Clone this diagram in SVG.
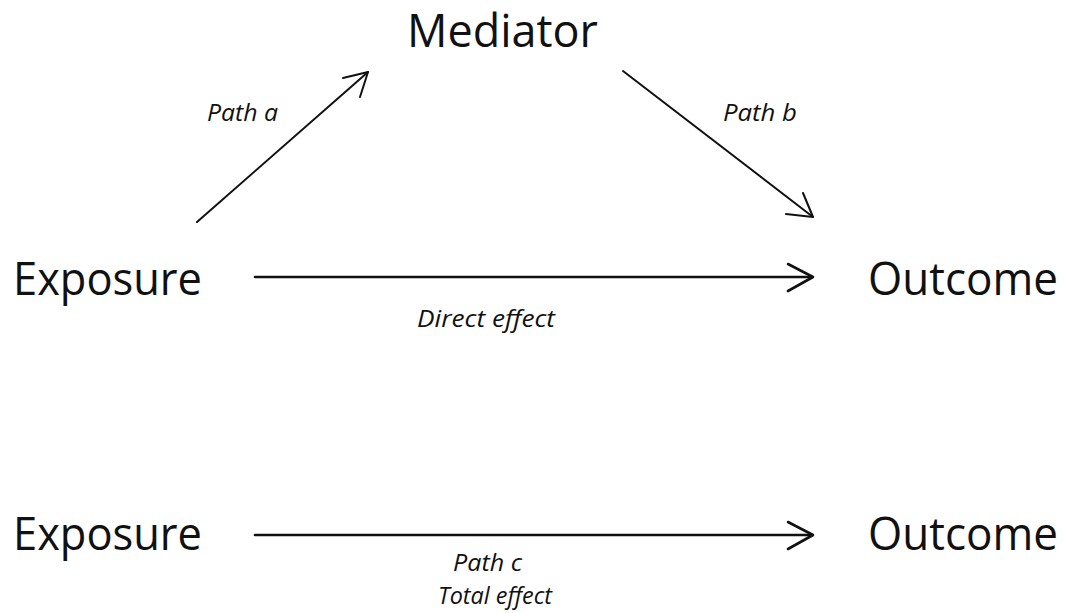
<svg xmlns="http://www.w3.org/2000/svg" width="1070" height="613" viewBox="0 0 1070 613">
<style>
.big{font-family:"Open Sans","Noto Sans",sans-serif;font-size:46px;fill:#111}
.lab{font-family:"Open Sans","Noto Sans",sans-serif;font-size:24px;font-style:italic;fill:#111}
.ln{stroke:#111;fill:none;stroke-linecap:round;stroke-linejoin:round}
</style>
<rect width="1070" height="613" fill="#fff"/>
<g id="mediator"><text class="big" x="407" y="47" textLength="191" lengthAdjust="spacingAndGlyphs">Mediator</text></g>
<g id="exposure1"><text class="big" x="13" y="295" textLength="189" lengthAdjust="spacingAndGlyphs">Exposure</text></g>
<g id="outcome1"><text class="big" x="868" y="295" textLength="190" lengthAdjust="spacingAndGlyphs">Outcome</text></g>
<g id="exposure2"><text class="big" x="13" y="550" textLength="189" lengthAdjust="spacingAndGlyphs">Exposure</text></g>
<g id="outcome2"><text class="big" x="868" y="550" textLength="190" lengthAdjust="spacingAndGlyphs">Outcome</text></g>
<g id="connectors">
<g class="ln" stroke-width="2">
<path d="M197 222 L368 72"/>
<path d="M343 78 L368 72 L360 97"/>
<path d="M623 71 L813 217"/>
<path d="M786 214 L813 217 L803 193"/>
</g>
<g class="ln" stroke-width="2.6">
<path d="M255 277 L812 277"/>
<path d="M788 264 L813 277 L788 291"/>
<path d="M255 535 L812 535"/>
<path d="M788 522 L813 535 L788 549"/>
</g>
<text class="lab" x="207" y="121" textLength="71" lengthAdjust="spacingAndGlyphs">Path a</text>
<text class="lab" x="723" y="121" textLength="74" lengthAdjust="spacingAndGlyphs">Path b</text>
<text class="lab" x="417" y="327" textLength="138" lengthAdjust="spacingAndGlyphs">Direct effect</text>
<text class="lab" x="453" y="571" textLength="69" lengthAdjust="spacingAndGlyphs">Path c</text>
<text class="lab" x="438" y="604" textLength="114" lengthAdjust="spacingAndGlyphs">Total effect</text>
</g>
</svg>
